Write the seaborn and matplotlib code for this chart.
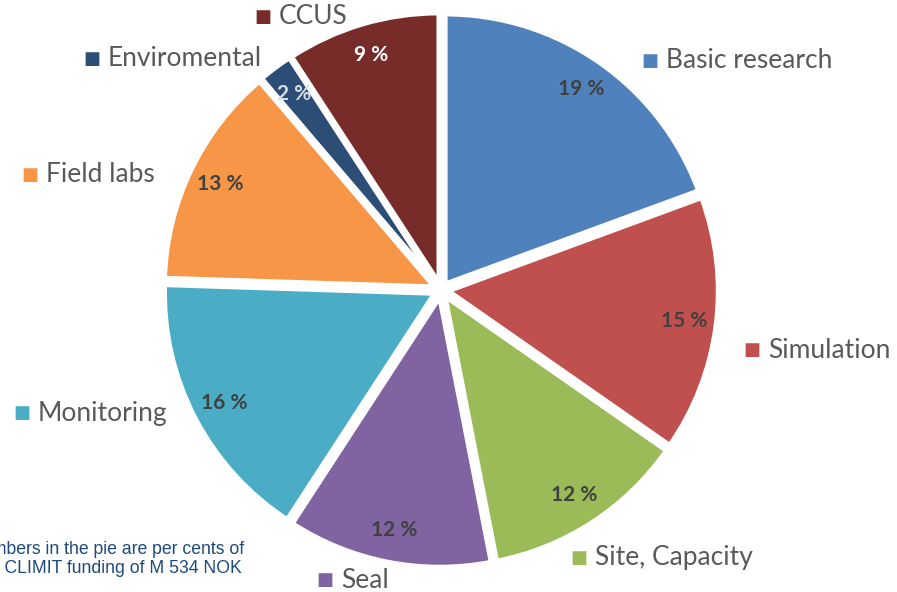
import numpy as np
import matplotlib
matplotlib.use('Agg')
import matplotlib.pyplot as plt
import seaborn as sns

# data (per cent of total CLIMIT funding)
categories = ['Basic research', 'Simulation', 'Site, Capacity', 'Seal',
              'Monitoring', 'Field labs', 'Enviromental', 'CCUS']
shares = [19, 15, 12, 12, 16, 13, 2, 9]
colors = ['#4F81BD', '#C0504D', '#9BBB59', '#8064A2',
          '#4BACC6', '#F79646', '#2C4D75', '#772C2A']
pct_colors = ['#404040'] * 6 + ['#D9DEE6', '#FFFFFF']

# where the legend-style category labels sit (pixels from top-left, square centre)
label_pos = [(650, 61), (752, 350), (579, 558), (325, 580),
             (22, 413), (30, 175), (92, 59), (263, 17)]

W, H = 897, 592
sns.set_theme(style='white')
plt.rcParams['font.family'] = ['Lato', 'DejaVu Sans']

fig = plt.figure(figsize=(W / 100, H / 100), dpi=100)
cx, cy, r = 441, 290, 270   # pie centre and radius in pixels
ax = fig.add_axes([0, 0, 1, 1])
wedges, _ = ax.pie(shares, colors=colors, startangle=90, counterclock=False,
                   explode=[0.027] * len(shares),
                   wedgeprops=dict(linewidth=3.5, edgecolor='white'))
ax.set_xlim(-cx / r, (W - cx) / r)
ax.set_ylim(-(H - cy) / r, cy / r)
ax.set_aspect('equal')
ax.axis('off')

# percentage labels inside the slices
for w, v, c in zip(wedges, shares, pct_colors):
    mid = np.deg2rad((w.theta1 + w.theta2) / 2)
    x0, y0 = w.center
    ax.text(x0 + 0.88 * np.cos(mid), y0 + 0.88 * np.sin(mid), f'{v} %',
            ha='center', va='center', fontsize=15, fontweight='bold', color=c)

# category labels with a coloured square in front
for name, c, (px, py) in zip(categories, colors, label_pos):
    fig.text(px / W, 1 - py / H, '\u25A0', color=c, fontsize=13,
             ha='center', va='center', family='DejaVu Sans')
    fig.text((px + 16) / W, 1 - py / H, name, color='#595959', fontsize=19,
             ha='left', va='center')

# footnote, partly cut off at the left edge as in the original
fig.text(-63 / W, 1 - 541 / H,
         'The numbers in the pie are per cents of\nthe total CLIMIT funding of M 534 NOK',
         ha='left', va='top', fontsize=12.7, color='#1F497D',
         family='Liberation Sans', linespacing=1.15)

fig.savefig('out.png', dpi=100)
